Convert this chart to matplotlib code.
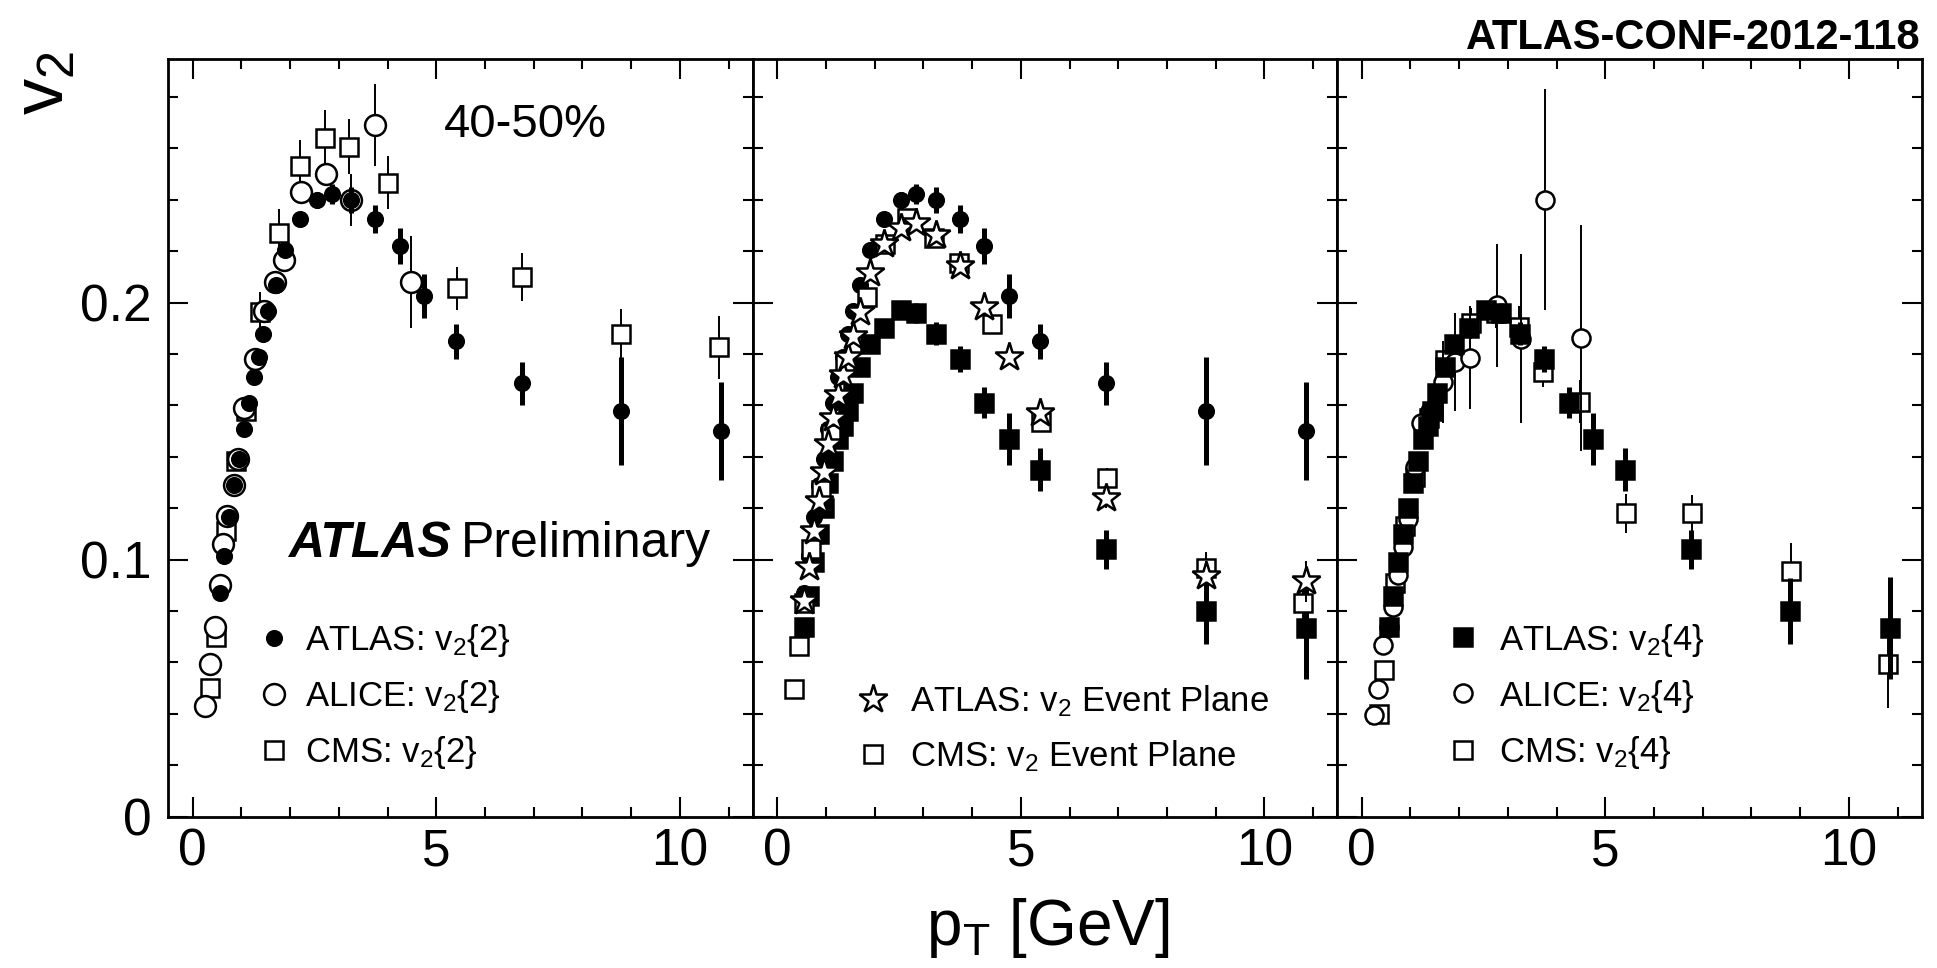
import matplotlib
matplotlib.use("Agg")
import matplotlib.pyplot as plt
from matplotlib.lines import Line2D
from matplotlib.ticker import MultipleLocator, FixedLocator, FixedFormatter

plt.rcParams["font.family"] = ["Liberation Sans", "DejaVu Sans"]
plt.rcParams["mathtext.fontset"] = "custom"
plt.rcParams["mathtext.rm"] = "Liberation Sans"
plt.rcParams["mathtext.it"] = "Liberation Sans:italic"
plt.rcParams["mathtext.bf"] = "Liberation Sans:bold"

# ---------------- data: v2(pT), Pb+Pb 40-50% centrality ----------------
atlas_pt = [0.55, 0.65, 0.75, 0.85, 0.95, 1.05, 1.15, 1.25, 1.35, 1.45, 1.55, 1.7,
            1.9, 2.2, 2.55, 2.85, 3.25, 3.75, 4.25, 4.75, 5.4, 6.75, 8.8, 10.85]

atlas_v22 = [0.087, 0.1016, 0.1165, 0.129, 0.139, 0.151, 0.161, 0.171, 0.179, 0.188, 0.1968, 0.207,
             0.2205, 0.2325, 0.240, 0.2423, 0.240, 0.2325, 0.222, 0.2026, 0.185, 0.1686, 0.158, 0.150]
atlas_v22_err = [0.001, 0.001, 0.001, 0.001, 0.001, 0.001, 0.001, 0.001, 0.001, 0.001, 0.001, 0.001,
                 0.0015, 0.002, 0.003, 0.004, 0.005, 0.0055, 0.007, 0.0085, 0.0068, 0.0084, 0.021, 0.019]

atlas_v24 = [0.074, 0.086, 0.099, 0.110, 0.120, 0.130, 0.1385, 0.147, 0.152, 0.158, 0.165, 0.175,
             0.184, 0.190, 0.197, 0.196, 0.188, 0.178, 0.161, 0.147, 0.135, 0.104, 0.080, 0.0734]
atlas_v24_err = [0.0015, 0.0015, 0.0015, 0.0015, 0.0015, 0.0015, 0.0015, 0.0015, 0.0015, 0.0015, 0.002, 0.002,
                 0.002, 0.0025, 0.003, 0.004, 0.0045, 0.005, 0.006, 0.010, 0.0084, 0.0075, 0.013, 0.020]

atlas_ep = [0.084, 0.097, 0.111, 0.123, 0.134, 0.145, 0.155, 0.164, 0.172, 0.179, 0.187, 0.1965,
            0.2114, 0.2228, 0.229, 0.2311, 0.2263, 0.2143, 0.1984, 0.1787, 0.1572, 0.124, 0.0935, 0.0916]
atlas_ep_err = [0.001, 0.001, 0.001, 0.001, 0.001, 0.001, 0.001, 0.001, 0.001, 0.001, 0.001, 0.001,
                0.001, 0.001, 0.001, 0.001, 0.0015, 0.002, 0.002, 0.003, 0.003, 0.004, 0.006, 0.008]

alice_v22_pt = [0.25, 0.35, 0.45, 0.55, 0.62, 0.71, 0.84, 0.93, 1.06, 1.28, 1.46, 1.69,
                1.88, 2.23, 2.74, 3.25, 3.75, 4.49]
alice_v22 = [0.043, 0.0595, 0.0737, 0.090, 0.106, 0.117, 0.129, 0.139, 0.159, 0.178, 0.1968, 0.208,
             0.2166, 0.243, 0.250, 0.240, 0.269, 0.208]
alice_v22_err = [0.001, 0.001, 0.001, 0.001, 0.001, 0.001, 0.001, 0.001, 0.002, 0.002, 0.002, 0.003,
                 0.003, 0.003, 0.004, 0.010, 0.016, 0.018]

cms_v22_pt = [0.35, 0.48, 0.68, 0.88, 1.09, 1.38, 1.77, 2.21, 2.72, 3.21, 4.01, 5.42, 6.76, 8.8, 10.8]
cms_v22 = [0.050, 0.070, 0.111, 0.1385, 0.158, 0.1965, 0.227, 0.253, 0.264, 0.2607, 0.2467,
           0.2056, 0.210, 0.1878, 0.1826]
cms_v22_err = [0.001, 0.002, 0.003, 0.004, 0.005, 0.0078, 0.0095, 0.0104, 0.011, 0.0106, 0.0104,
               0.0084, 0.0094, 0.0096, 0.0122]

cms_ep_pt = [0.34, 0.45, 0.55, 0.7, 0.9, 1.1, 1.4, 1.84, 2.22, 2.67, 3.22, 3.73, 4.41, 5.41, 6.76, 8.8, 10.8]
cms_ep = [0.0497, 0.0666, 0.083, 0.104, 0.127, 0.149, 0.176, 0.2023, 0.223, 0.2328, 0.225, 0.2153,
          0.1917, 0.1537, 0.1318, 0.0968, 0.0832]
cms_ep_err = [0.001, 0.001, 0.001, 0.001, 0.001, 0.001, 0.001, 0.002, 0.002, 0.002, 0.003, 0.003,
              0.003, 0.004, 0.004, 0.006, 0.008]

alice_v24_pt = [0.25, 0.33, 0.43, 0.55, 0.64, 0.75, 0.84, 0.95, 1.10, 1.22, 1.40, 1.66,
                1.91, 2.22, 2.77, 3.26, 3.76, 4.50]
alice_v24 = [0.0394, 0.0497, 0.0668, 0.074, 0.0815, 0.094, 0.1048, 0.116, 0.136, 0.1533, 0.158, 0.169,
             0.177, 0.1786, 0.199, 0.186, 0.240, 0.1864]
alice_v24_err = [0.001, 0.001, 0.001, 0.001, 0.001, 0.002, 0.002, 0.003, 0.004, 0.005, 0.007, 0.016,
                 0.019, 0.020, 0.024, 0.033, 0.043, 0.044]

cms_v24_pt = [0.35, 0.45, 0.68, 0.88, 1.09, 1.38, 1.71, 2.24, 2.75, 3.22, 3.73, 4.48, 5.42, 6.78, 8.81, 10.8]
cms_v24 = [0.040, 0.0569, 0.091, 0.113, 0.132, 0.155, 0.1777, 0.192, 0.196, 0.1907, 0.173, 0.1615,
           0.118, 0.118, 0.0955, 0.0594]
cms_v24_err = [0.001, 0.001, 0.002, 0.002, 0.002, 0.003, 0.004, 0.006, 0.006, 0.008, 0.006, 0.0085,
               0.0075, 0.007, 0.011, 0.017]

x_ticks = [0, 5, 10]
x_ticklabels = ["0", "5", "10"]
y_ticks = [0, 0.1, 0.2]
y_ticklabels = ["0", "0.1", "0.2"]

# ---------------- figure ----------------
W, H = 1937, 968
fig = plt.figure(figsize=(W / 100, H / 100), dpi=100)
ax_left, ax_w = 168.4 / W, 584.5 / W
ax_bot, ax_h = (H - 816.7) / H, 758.2 / H
axes = [fig.add_axes([ax_left + i * ax_w, ax_bot, ax_w, ax_h]) for i in range(3)]

MEW = 1.8


def series(ax, x, y, err, marker, ms, filled, thick, z):
    ax.errorbar(x, y, yerr=err, fmt=marker, ms=ms,
                mfc="black" if filled else "white", mec="black", mew=MEW,
                ecolor="black", elinewidth=3.6 if thick else 1.4, capsize=0,
                zorder=z, clip_on=True)


def proxy(marker, ms, filled):
    return Line2D([], [], ls="none", marker=marker, ms=ms,
                  mfc="black" if filled else "white", mec="black", mew=MEW)


for i, ax in enumerate(axes):
    ax.set_xlim(-0.5, 11.5)
    ax.set_ylim(0, 0.295)
    ax.xaxis.set_major_locator(FixedLocator(x_ticks))
    ax.xaxis.set_major_formatter(FixedFormatter(x_ticklabels))
    ax.xaxis.set_minor_locator(MultipleLocator(1))
    ax.yaxis.set_major_locator(FixedLocator(y_ticks))
    ax.yaxis.set_major_formatter(FixedFormatter(y_ticklabels))
    ax.yaxis.set_minor_locator(MultipleLocator(0.02))
    ax.tick_params(which="both", direction="in", top=True, right=True,
                   width=1.5, labelsize=37, colors="black")
    ax.tick_params(which="major", length=14.5)
    ax.tick_params(which="minor", length=7.5)
    ax.tick_params(axis="x", pad=8)
    ax.tick_params(axis="y", pad=12)
    if i > 0:
        ax.tick_params(axis="y", labelleft=False)
    for sp in ax.spines.values():
        sp.set_linewidth(2.0)

# panel 1: two-particle cumulant
a = axes[0]
series(a, cms_v22_pt, cms_v22, cms_v22_err, "s", 13, False, False, 3)
series(a, alice_v22_pt, alice_v22, alice_v22_err, "o", 15, False, False, 4)
series(a, atlas_pt, atlas_v22, atlas_v22_err, "o", 10.5, True, True, 5)
a.text(5.15, 0.269, "40-50%", fontsize=34, ha="left", va="center")
a.text(1.95, 0.1012, "ATLAS", fontsize=36, fontweight="bold", fontstyle="italic",
       ha="left", va="baseline")
a.text(5.5, 0.1012, "Preliminary", fontsize=36, ha="left", va="baseline")
a.legend([proxy("o", 10.5, True), proxy("o", 15, False), proxy("s", 13, False)],
         [r"ATLAS: v$_\mathrm{2}${2}", r"ALICE: v$_\mathrm{2}${2}", r"CMS: v$_\mathrm{2}${2}"],
         loc="center left", bbox_to_anchor=(0.157, 0.1586), frameon=False, fontsize=25,
         handlelength=0.8, handletextpad=0.48, labelspacing=0.55, borderpad=0,
         borderaxespad=0, numpoints=1)

# panel 2: event plane
b = axes[1]
series(b, atlas_pt, atlas_v22, atlas_v22_err, "o", 10.5, True, True, 3)
series(b, atlas_pt, atlas_v24, atlas_v24_err, "s", 12.5, True, True, 3)
series(b, cms_ep_pt, cms_ep, cms_ep_err, "s", 13.5, False, False, 4)
series(b, atlas_pt, atlas_ep, atlas_ep_err, "*", 21, False, False, 5)
b.legend([proxy("*", 21, False), proxy("s", 13.5, False)],
         [r"ATLAS: v$_\mathrm{2}$ Event Plane", r"CMS: v$_\mathrm{2}$ Event Plane"],
         loc="center left", bbox_to_anchor=(0.182, 0.116), frameon=False, fontsize=25,
         handlelength=0.8, handletextpad=0.66, labelspacing=0.55, borderpad=0,
         borderaxespad=0, numpoints=1)

# panel 3: four-particle cumulant
c = axes[2]
series(c, cms_v24_pt, cms_v24, cms_v24_err, "s", 13.5, False, False, 3)
series(c, alice_v24_pt, alice_v24, alice_v24_err, "o", 13, False, False, 4)
series(c, atlas_pt, atlas_v24, atlas_v24_err, "s", 13, True, True, 5)
c.legend([proxy("s", 13, True), proxy("o", 13, False), proxy("s", 13.5, False)],
         [r"ATLAS: v$_\mathrm{2}${4}", r"ALICE: v$_\mathrm{2}${4}", r"CMS: v$_\mathrm{2}${4}"],
         loc="center left", bbox_to_anchor=(0.191, 0.159), frameon=False, fontsize=25,
         handlelength=0.8, handletextpad=0.65, labelspacing=0.55, borderpad=0,
         borderaxespad=0, numpoints=1)

# axis titles and note
fig.text(0.0235, 0.948, r"v$_\mathrm{2}$", fontsize=52, rotation=90, ha="center", va="top")
fig.text(0.541, 0.024, r"p$_\mathrm{T}$ [GeV]", fontsize=46, ha="center", va="baseline")
fig.text(0.9917, 0.949, "ATLAS-CONF-2012-118", fontsize=30, fontweight="bold",
         ha="right", va="baseline")

fig.savefig("out.png", dpi=100, facecolor="white")
